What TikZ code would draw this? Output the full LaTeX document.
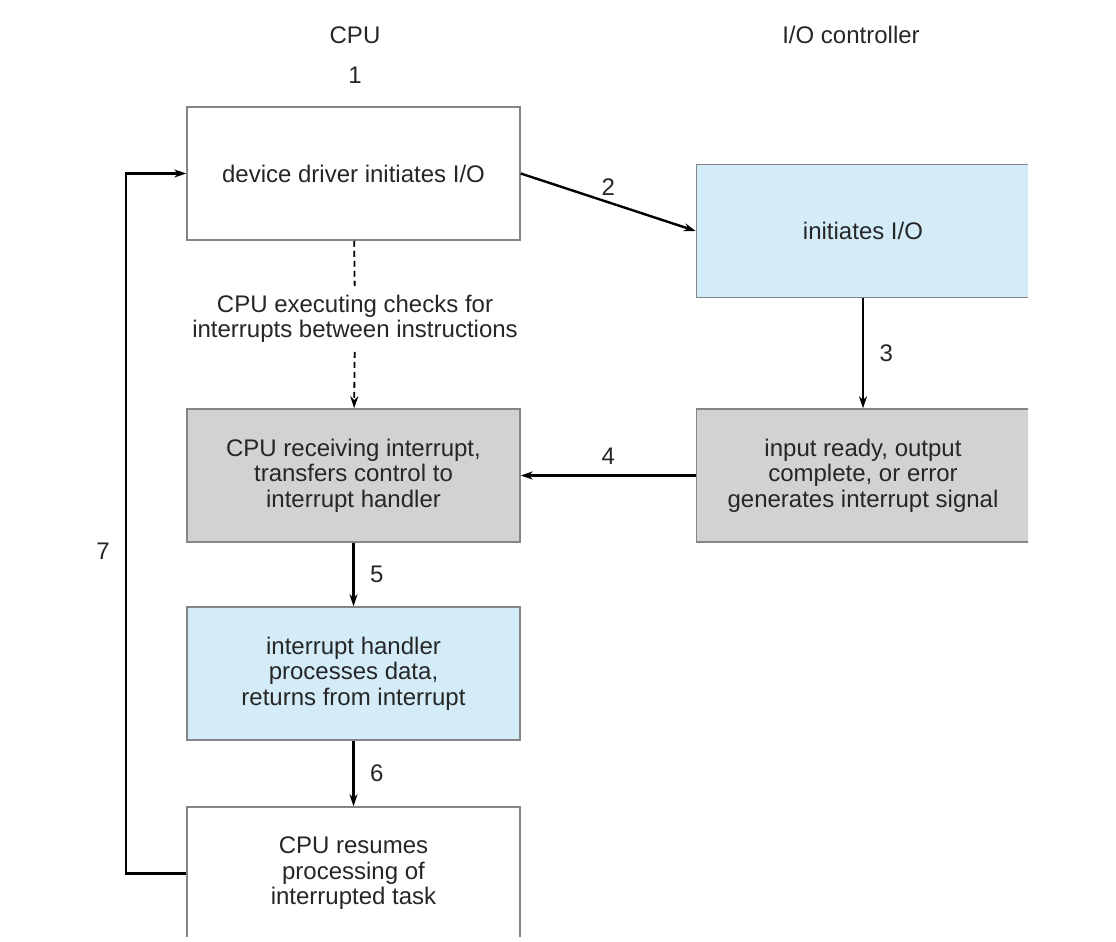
\documentclass[tikz,border=0pt]{standalone}
\usepackage{fontspec}
\setmainfont{Liberation Sans}
\usetikzlibrary{arrows.meta}
\definecolor{lblue}{HTML}{D3ECF8}
\definecolor{lgray}{HTML}{D2D2D2}
\definecolor{edgegray}{HTML}{858585}

\begin{document}
\begin{tikzpicture}[x=1pt,y=-1pt,
  font=\fontsize{24}{25.5}\selectfont,
  box/.style={draw=edgegray,line width=1.5pt,minimum width=333pt,minimum height=133pt,
    align=center,inner sep=0pt,text=black!85},
  lbl/.style={text=black!85},
  >={Stealth[length=12pt,width=8pt]}]
  \useasboundingbox (0,0) rectangle (1116,942);

  \begin{scope}
    \clip (0,0) rectangle (1028,936);
    \draw[line width=0pt]
      (353.5,173.5) node[box,fill=white] (dd) {device driver initiates I/O}
      (863,231)     node[box,fill=lblue] (io) {initiates I/O}
      (863,475.5)   node[box,fill=lgray] (rdy) {input ready, output\\complete, or error\\generates interrupt signal}
      (353.5,475.5) node[box,fill=lgray] (recv) {CPU receiving interrupt,\\transfers control to\\interrupt handler}
      (353.5,673.5) node[box,fill=lblue] (hdl) {interrupt handler\\processes data,\\returns from interrupt}
      (353.5,873.5) node[box,fill=white] (res) {CPU resumes\\processing of\\interrupted task};
  \end{scope}

  \draw[line width=0pt]
    (355,35)  node[lbl] (cpu) {CPU}
    (851,35)  node[lbl] (ioc) {I/O controller}
    (355,75)  node[lbl] (n1) {1}
    (355,319) node[lbl,align=center,inner sep=9pt] (chk) {CPU executing checks for\\interrupts between instructions};

  \draw[line width=2.4pt,->] (dd.east) -- node[lbl,above=2pt] {2} (io.west);
  \draw[line width=2.4pt,->] (io) -- node[lbl,right=12pt] {3} (rdy);
  \draw[line width=2.4pt,->] (rdy) -- node[lbl,above=6pt] {4} (recv);
  \draw[line width=1.8pt,dash pattern=on 6pt off 4pt] (dd) -- (chk);
  \draw[line width=1.8pt,dash pattern=on 6pt off 4pt,->] (chk) -- (recv);
  \draw[line width=2.4pt,->] (recv) -- node[lbl,right=12pt] {5} (hdl);
  \draw[line width=2.4pt,->] (hdl) -- node[lbl,right=12pt] {6} (res);
  \draw[line width=2.4pt,->] (res.west) -- ++(-60,0) |- node[lbl,left=12pt,pos=0.23] {7} (dd.west);
\end{tikzpicture}
\end{document}
